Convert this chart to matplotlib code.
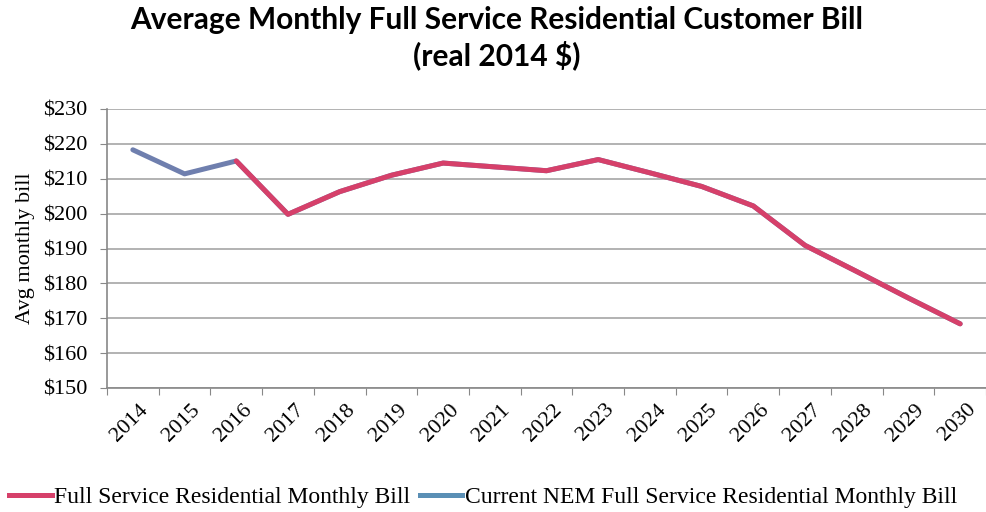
import matplotlib
matplotlib.use("Agg")
import matplotlib.pyplot as plt
from matplotlib.ticker import FixedLocator, NullFormatter
from matplotlib.lines import Line2D

years = ["2014", "2015", "2016", "2017", "2018", "2019", "2020", "2021", "2022",
         "2023", "2024", "2025", "2026", "2027", "2028", "2029", "2030"]
full_service = [218.3, 211.4, 215.1, 199.8, 206.3, 211.0, 214.5, 213.4, 212.3,
                215.5, 211.7, 207.8, 202.2, 190.9, 183.4, 175.8, 168.4]
current_nem = [218.3, 211.4, 215.1, 199.8, 206.3, 211.0, 214.5, 213.4, 212.3,
               215.5, 211.7, 207.8, 202.2, 190.9, 183.4, 175.8, 168.4]
y_ticks = [150, 160, 170, 180, 190, 200, 210, 220, 230]

RED = "#d6406a"
BLUE = "#6f7fae"
BLUE_LEG = "#5a8fb5"
SERIF = ["Liberation Serif", "DejaVu Serif"]

fig = plt.figure(figsize=(9.86, 5.12), dpi=100)
ax = fig.add_axes([107 / 986, 1 - 388 / 512, (986 - 107) / 986, (388 - 109) / 512])

x = list(range(len(years)))
# NEM series underneath, full-service series drawn from 2016 onward on top
ax.plot(x, current_nem, color=BLUE, lw=3.6, solid_capstyle="round", zorder=3)
ax.plot(x[2:], full_service[2:], color=RED, lw=3.6, solid_capstyle="round",
        solid_joinstyle="round", zorder=4)

ax.set_xlim(-0.5, len(years) - 0.5)
ax.set_ylim(150, 230)
ax.set_yticks(y_ticks)
ax.set_yticklabels([f"${v}" for v in y_ticks], fontsize=16, family=SERIF)
ax.yaxis.grid(True, color="#a6a6a6", lw=1.2)
ax.set_axisbelow(True)

ax.xaxis.set_major_locator(FixedLocator([i + 0.5 for i in range(-1, len(years))]))
ax.xaxis.set_major_formatter(NullFormatter())
ax.tick_params(axis="x", length=5, color="#888888", direction="out")
ax.tick_params(axis="y", length=5, color="#888888", direction="out", pad=9)
for i, lab in enumerate(years):
    ax.text(i + 0.12, 146.5, lab, rotation=45, ha="right", va="top",
            rotation_mode="anchor", fontsize=16, family=SERIF)

for s in ["top", "right"]:
    ax.spines[s].set_visible(False)
for s in ["left", "bottom"]:
    ax.spines[s].set_color("#888888")
    ax.spines[s].set_linewidth(1.2)

ax.set_ylabel("Avg monthly bill", fontsize=16, family=SERIF, labelpad=6)

fig.text(0.504, 0.96, "Average Monthly Full Service Residential Customer Bill",
         ha="center", va="center", fontsize=21.5, fontweight="bold", family=["Lato", "DejaVu Sans"])
fig.text(0.504, 0.892, "(real 2014 $)", ha="center", va="center",
         fontsize=21.5, fontweight="bold", family=["Lato", "DejaVu Sans"])

handles = [Line2D([], [], color=RED, lw=3.6),
           Line2D([], [], color=BLUE_LEG, lw=3.6)]
fig.legend(handles, ["Full Service Residential Monthly Bill",
                     "Current NEM Full Service Residential Monthly Bill"],
           loc="center", bbox_to_anchor=(0.49, 0.028), ncol=2, frameon=False,
           handlelength=1.8, handletextpad=0.1, columnspacing=0.4,
           prop={"family": SERIF, "size": 17})

fig.savefig("out.png", dpi=100)
